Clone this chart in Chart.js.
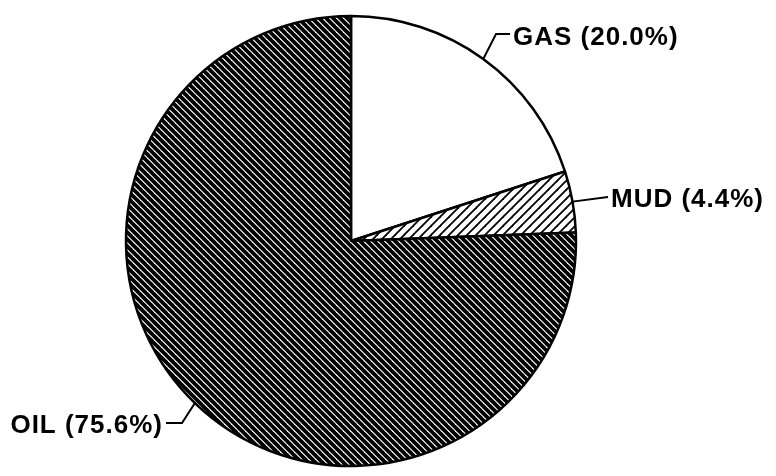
<!DOCTYPE html>
<html>
<head>
<meta charset="utf-8">
<script src="https://cdn.jsdelivr.net/npm/chart.js@4.4.1/dist/chart.umd.min.js"></script>
<style>
  html, body { margin: 0; padding: 0; background: #fff; }
  #wrap { width: 776px; height: 476px; }
</style>
</head>
<body>
<div id="wrap"><canvas id="grafico"></canvas></div>
<script>
// dati
const categorie = ['GAS', 'MUD', 'OIL'];
const valori = [20.0, 4.4, 75.6];
const etichette = ['GAS (20.0%)', 'MUD (4.4%)', 'OIL (75.6%)'];

// tratteggio diagonale su una piastrella quadrata
function tratteggio(p, spessore, verso) {
  const c = document.createElement('canvas');
  c.width = p; c.height = p;
  const g = c.getContext('2d');
  g.fillStyle = '#fff';
  g.fillRect(0, 0, p, p);
  g.strokeStyle = '#000';
  g.lineWidth = spessore;
  g.lineCap = 'square';
  for (let k = -1; k <= 1; k++) {
    g.beginPath();
    if (verso === '\\') {
      g.moveTo(k * p, 0); g.lineTo(k * p + p, p);
    } else {
      g.moveTo(k * p, p); g.lineTo(k * p + p, 0);
    }
    g.stroke();
  }
  return g.createPattern(c, 'repeat');
}

const ctx = document.getElementById('grafico').getContext('2d');
const riempimenti = ['#ffffff', tratteggio(9, 1.8, '/'), tratteggio(7, 3.8, '\\')];

// dove vanno le scritte (gomito, fine linea, testo)
const posEtichette = [
  { gomito: [496, 34], fine: [510, 34], tx: 513, ty: 45, allinea: 'left' },
  { gomito: null, fine: [608, 197], tx: 611, ty: 207, allinea: 'left' },
  { gomito: [182, 423], fine: [166, 423], tx: 162, ty: 433, allinea: 'right' }
];

const etichettePlugin = {
  id: 'etichette',
  afterDatasetsDraw(chart) {
    const c = chart.ctx;
    const archi = chart.getDatasetMeta(0).data;
    c.save();
    c.strokeStyle = '#000';
    c.lineWidth = 2;
    c.fillStyle = '#000';
    c.font = 'bold 26px "Liberation Sans", Arial, sans-serif';
    c.letterSpacing = '1px';
    c.textBaseline = 'alphabetic';
    archi.forEach((a, i) => {
      const p = posEtichette[i];
      const m = (a.startAngle + a.endAngle) / 2;
      const x0 = a.x + Math.cos(m) * a.outerRadius;
      const y0 = a.y + Math.sin(m) * a.outerRadius;
      c.beginPath();
      c.moveTo(x0, y0);
      if (p.gomito) c.lineTo(p.gomito[0], p.gomito[1]);
      c.lineTo(p.fine[0], p.fine[1]);
      c.stroke();
      c.textAlign = p.allinea;
      c.fillText(etichette[i], p.allinea === 'right' ? p.tx + 1 : p.tx, p.ty);
    });
    c.restore();
  }
};

new Chart(ctx, {
  type: 'pie',
  data: {
    labels: categorie,
    datasets: [{
      data: valori,
      backgroundColor: riempimenti,
      borderColor: '#000',
      borderWidth: 2.5
    }]
  },
  options: {
    responsive: true,
    maintainAspectRatio: false,
    animation: false,
    radius: 225,
    layout: { padding: { left: 0, right: 74, top: 6, bottom: 0 } },
    plugins: {
      legend: { display: false },
      tooltip: { enabled: false }
    }
  },
  plugins: [etichettePlugin]
});
</script>
</body>
</html>
